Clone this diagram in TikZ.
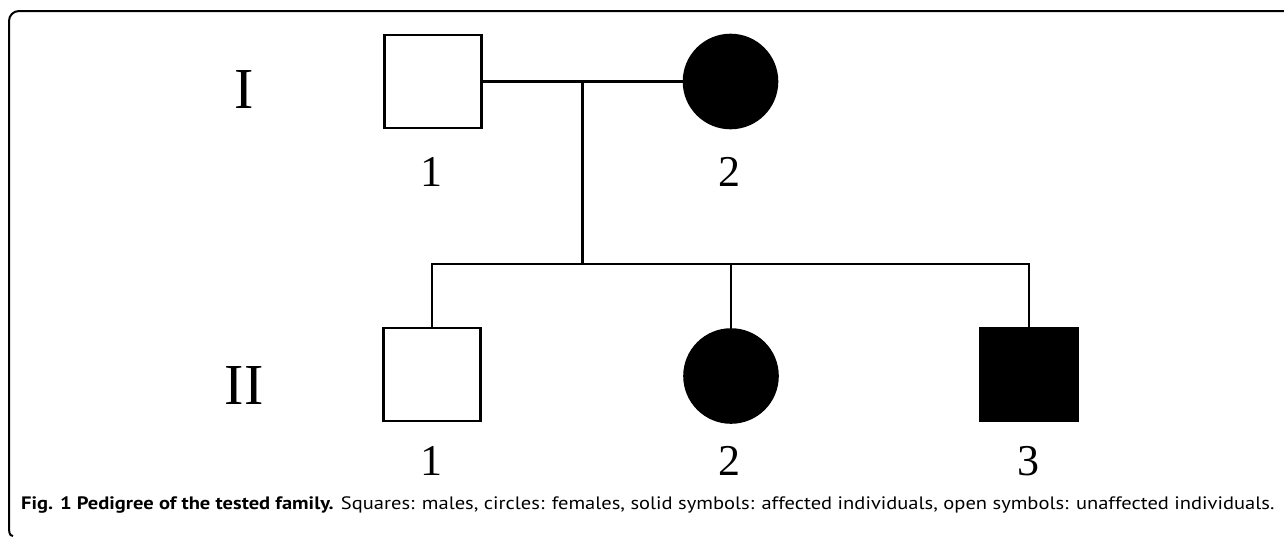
\documentclass[tikz,border=0pt]{standalone}
\usepackage{fontspec}
\setmainfont{Liberation Serif}
\newfontfamily\capfont{PT Sans}
\begin{document}
\begin{tikzpicture}[x=1pt,y=-1pt,
  line/.style={line width=2.2pt},
  sym/.style={line width=2.6pt, draw=black, minimum width=97pt, minimum height=93pt, inner sep=0pt},
  male/.style={sym, rectangle},
  female/.style={sym, circle, minimum size=93pt, fill=black},
  num/.style={font=\fontsize{44}{48}\selectfont, inner sep=0pt},
  gen/.style={font=\fontsize{58}{60}\selectfont, inner sep=0pt}]
\useasboundingbox (0,0) rectangle (1284,538);
% frame
\draw[line width=2pt] (1290,11) -- (19,11) to[out=180,in=90] (9,21) -- (9,526) to[out=-90,in=180] (13,536);
% generation labels
\node[gen] (gI) at (244,90) {I};
\node[gen] (gII) at (244,386) {II};
% generation I
\node[male] (a1) at (433,81.5) {};
\node[female] (a2) at (730.5,81.5) {};
\node[num] (la1) at (431,172) {1};
\node[num] (la2) at (729,172) {2};
\draw[line] (a1.east) -- (a2.west);
\coordinate (m) at (582.5,81.5);
\coordinate (s) at (582.5,264);
\draw[line] (m) -- (s);
% generation II
\node[male] (b1) at (432,374.5) {};
\node[female] (b2) at (731,376) {};
\node[male, fill=black] (b3) at (1029,374.5) {};
\node[num] (lb1) at (431,461) {1};
\node[num] (lb2) at (729,461) {2};
\node[num] (lb3) at (1028,461) {3};
\draw[line] (b1.north) |- (s) -| (b3.north);
\draw[line] (b2.north) -- (b2.north |- s);
% caption
\node[anchor=base west, inner sep=0pt, font=\capfont\fontsize{18}{20}\selectfont] (cap) at (21,509)
  {\scalebox{1.14}[1]{\textbf{Fig. 1 Pedigree of the tested family.} Squares: males, circles: females, solid symbols: affected individuals, open symbols: unaffected individuals.}};
\end{tikzpicture}
\end{document}
